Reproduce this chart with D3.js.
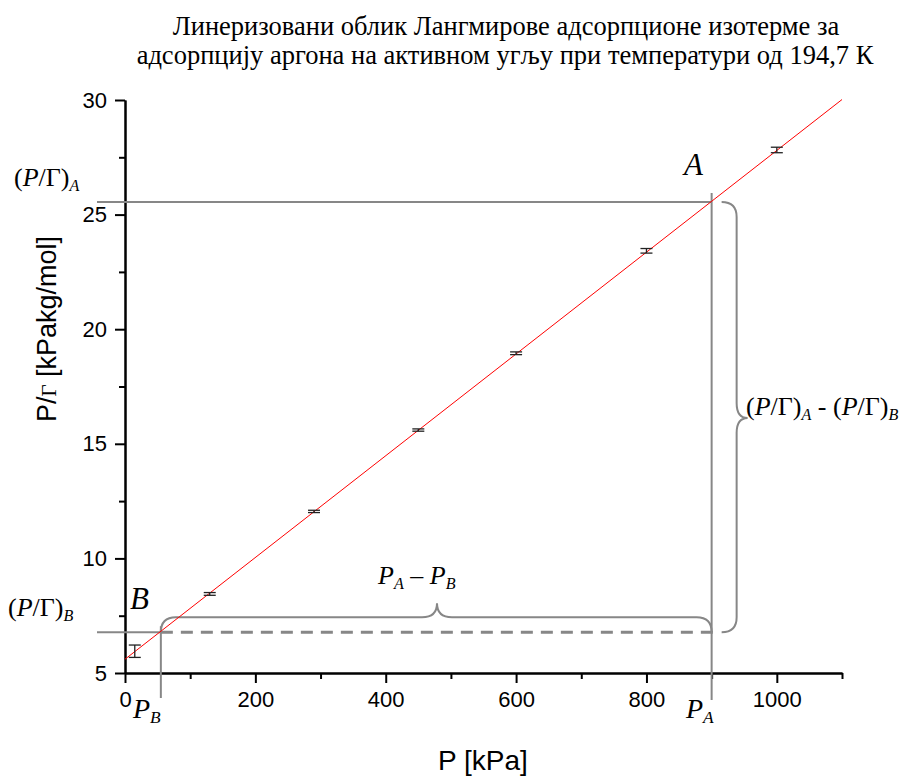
<!DOCTYPE html>
<html lang="sr">
<head>
<meta charset="UTF-8">
<title>Langmuir isotherm</title>
<script src="https://d3js.org/d3.v7.min.js"></script>
<style>
  body { margin: 0; background: #fff; }
  .tick text { font-family: "Liberation Sans", Arial, sans-serif; font-size: 22px; fill: #000; }
  .axis path, .axis line { stroke: #000; stroke-width: 2; }
  .serif { font-family: "Liberation Serif", "Times New Roman", serif; fill: #000; }
  .sans { font-family: "Liberation Sans", Arial, sans-serif; fill: #000; }
  .guide { stroke: #878787; stroke-width: 2; fill: none; }
</style>
</head>
<body>
<svg width="901" height="778"></svg>
<script>
// measured points (P in kPa, P/Γ in kPa·kg/mol)
const pressure = [15, 130, 290, 450, 600, 800, 1000];
const pGamma   = [5.95, 8.45, 12.05, 15.6, 18.95, 23.42, 27.82];
const pGammaErr = [0.27, 0.06, 0.05, 0.05, 0.06, 0.1, 0.12];

// linear fit
const fitIntercept = 5.6;
const fitSlope = 0.0222;

const xMajor = [0, 200, 400, 600, 800, 1000];
const xMinor = [100, 300, 500, 700, 900, 1100];
const yMajor = [5, 10, 15, 20, 25, 30];
const yMinor = [7.5, 12.5, 17.5, 22.5, 27.5];

// annotated points A and B on the fit line
const pointA = [900, 25.55];
const pointB = [55, 6.78];

const svg = d3.select("svg");
const x = d3.scaleLinear().domain([0, 1100]).range([125, 842]);
const y = d3.scaleLinear().domain([5, 30]).range([673, 100]);

// title
const title = svg.append("text").attr("class", "serif")
    .attr("text-anchor", "middle").style("font-size", "26.5px");
title.append("tspan").attr("x", 506).attr("y", 35)
    .text("Линеризовани облик Лангмирове адсорпционе изотерме за");
title.append("tspan").attr("x", 505).attr("y", 64)
    .text("адсорпцију аргона на активном угљу при температури од 194,7 К");

// axes
svg.append("g").attr("class", "axis")
    .attr("transform", `translate(0,${y(5)})`)
    .call(d3.axisBottom(x).tickValues(xMinor).tickSize(6).tickSizeOuter(0).tickFormat(""));
svg.append("g").attr("class", "axis")
    .attr("transform", `translate(0,${y(5)})`)
    .call(d3.axisBottom(x).tickValues(xMajor).tickSize(10).tickSizeOuter(0)
        .tickPadding(8).tickFormat(d3.format("d")));
svg.append("g").attr("class", "axis")
    .attr("transform", `translate(${x(0)},0)`)
    .call(d3.axisLeft(y).tickValues(yMinor).tickSize(6).tickSizeOuter(0).tickFormat(""));
svg.append("g").attr("class", "axis")
    .attr("transform", `translate(${x(0)},0)`)
    .call(d3.axisLeft(y).tickValues(yMajor).tickSize(10).tickSizeOuter(0).tickPadding(8));

// axis titles
svg.append("text").attr("class", "sans")
    .attr("x", 483).attr("y", 770).attr("text-anchor", "middle")
    .style("font-size", "28px").text("P [kPa]");
const yt = svg.append("text").attr("class", "sans")
    .attr("transform", "translate(56,329) rotate(-90)")
    .attr("text-anchor", "middle").style("font-size", "27px");
yt.append("tspan").text("P/");
yt.append("tspan").attr("class", "serif").style("font-size", "21px").text("Γ");
yt.append("tspan").text("  [kPakg/mol]");

// guide lines
const ax = x(pointA[0]), ay = y(pointA[1]);
const bx = x(pointB[0]), by = y(pointB[1]);
const left = x(0) - 28;

svg.append("line").attr("class", "guide")
    .attr("x1", left).attr("x2", ax).attr("y1", ay).attr("y2", ay);
svg.append("line").attr("class", "guide")
    .attr("x1", ax).attr("x2", ax).attr("y1", ay - 9).attr("y2", y(5) + 27);
svg.append("line").attr("class", "guide")
    .attr("x1", left).attr("x2", bx).attr("y1", by).attr("y2", by);
svg.append("line").attr("class", "guide")
    .attr("x1", bx).attr("x2", bx).attr("y1", by - 6).attr("y2", y(5) + 25);
svg.append("line").attr("class", "guide")
    .attr("x1", bx).attr("x2", ax + 8).attr("y1", by).attr("y2", by)
    .style("stroke-width", 3).style("stroke-dasharray", "12,8");

// curly braces
const r = 15;
function hBrace(x1, x2, y0, tipX) {
  const yl = y0 - r, yt = y0 - 2 * r;
  return `M${x1},${y0} Q${x1},${yl} ${x1 + r},${yl} L${tipX - r},${yl} ` +
    `Q${tipX},${yl} ${tipX},${yt + 1} Q${tipX},${yl} ${tipX + r},${yl} ` +
    `L${x2 - r},${yl} Q${x2},${yl} ${x2},${y0}`;
}
function vBrace(y1, y2, x0, tipY) {
  const xl = x0 + r, xt = x0 + 2 * r - 4;
  return `M${x0},${y1} Q${xl},${y1} ${xl},${y1 + r} L${xl},${tipY - r} ` +
    `Q${xl},${tipY} ${xt},${tipY} Q${xl},${tipY} ${xl},${tipY + r} ` +
    `L${xl},${y2 - r} Q${xl},${y2} ${x0},${y2}`;
}
svg.append("path").attr("class", "guide").attr("d", hBrace(bx, ax, by, 437));
svg.append("path").attr("class", "guide").attr("d", vBrace(ay, by, ax + 10, 418));

// fit line
svg.append("line")
    .attr("x1", x(0)).attr("y1", y(fitIntercept))
    .attr("x2", x(1100)).attr("y2", y(fitIntercept + fitSlope * 1100))
    .attr("stroke", "#ff0000").attr("stroke-width", 1);

// error bars
const eb = svg.append("g").attr("stroke", "#222").attr("stroke-width", 1.3);
pressure.forEach((p, i) => {
  const cx = x(p), top = y(pGamma[i] + pGammaErr[i]), bot = y(pGamma[i] - pGammaErr[i]);
  eb.append("line").attr("x1", cx).attr("x2", cx).attr("y1", top).attr("y2", bot);
  eb.append("line").attr("x1", cx - 6).attr("x2", cx + 6).attr("y1", top).attr("y2", top);
  eb.append("line").attr("x1", cx - 6).attr("x2", cx + 6).attr("y1", bot).attr("y2", bot);
});

// annotation labels
function ratioLabel(g, sub) {
  g.append("tspan").text("(");
  g.append("tspan").style("font-style", "italic").text("P");
  g.append("tspan").text("/Γ)");
  g.append("tspan").style("font-style", "italic").style("font-size", "62%")
      .attr("dy", 5).text(sub);
}
function pLabel(g, sub) {
  g.append("tspan").style("font-style", "italic").text("P");
  g.append("tspan").style("font-style", "italic").style("font-size", "62%")
      .attr("dy", 5).text(sub);
}

ratioLabel(svg.append("text").attr("class", "serif").attr("x", 14).attr("y", 186)
    .style("font-size", "26px"), "A");
ratioLabel(svg.append("text").attr("class", "serif").attr("x", 8).attr("y", 616)
    .style("font-size", "26px"), "B");

const diff = svg.append("text").attr("class", "serif").attr("x", 746).attr("y", 415)
    .style("font-size", "26px");
ratioLabel(diff, "A");
diff.append("tspan").attr("dy", -5).text(" - ");
ratioLabel(diff, "B");

svg.append("text").attr("class", "serif").attr("x", 684).attr("y", 175)
    .style("font-size", "31px").style("font-style", "italic").text("A");
svg.append("text").attr("class", "serif").attr("x", 130).attr("y", 609)
    .style("font-size", "31px").style("font-style", "italic").text("B");

const pd = svg.append("text").attr("class", "serif").attr("x", 378).attr("y", 584)
    .style("font-size", "26px");
pLabel(pd, "A");
pd.append("tspan").attr("dy", -5).text(" – ");
pLabel(pd, "B");

pLabel(svg.append("text").attr("class", "serif").attr("x", 133).attr("y", 718)
    .style("font-size", "28px"), "B");
pLabel(svg.append("text").attr("class", "serif").attr("x", 686).attr("y", 718)
    .style("font-size", "28px"), "A");
</script>
</body>
</html>
